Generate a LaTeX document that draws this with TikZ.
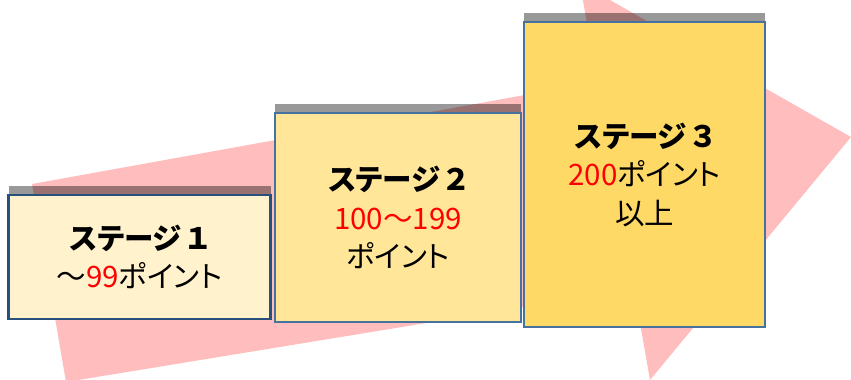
\documentclass[tikz,border=0pt]{standalone}
\usepackage{fontspec}
\setmainfont{Noto Sans CJK JP}[RawFeature=+palt]
\usetikzlibrary{shadows}
\definecolor{arrowpink}{RGB}{255,189,189}
\definecolor{fillA}{RGB}{255,242,204}
\definecolor{fillB}{RGB}{255,230,153}
\definecolor{fillC}{RGB}{255,217,102}
\definecolor{borderA}{RGB}{40,80,124}
\definecolor{borderB}{RGB}{70,114,160}
\definecolor{numred}{RGB}{255,0,0}
\newcommand{\stgap}{\hspace{5pt}}
\tikzset{
  stagebox/.style={rectangle, align=center, inner sep=0pt,
    font=\fontsize{29.5}{38.5}\selectfont,
    general shadow={fill=black, opacity=0.4, shadow yshift=9.5pt}},
  arrowfill/.style={fill=arrowpink}
}
\begin{document}
\begin{tikzpicture}[x=1pt,y=-1pt]
\useasboundingbox (0,0) rectangle (851,380);
\clip (0,0) rectangle (851,380);
\fill[arrowfill] (32,184) -- (597,82) -- (580,-17) -- (851,137) -- (650,380) -- (634,289) -- (66,382) -- cycle;
\node[stagebox, fill=fillA, draw=borderA, line width=2.5pt, minimum width=262pt, minimum height=124pt] (s1) at (139.5,257)
  {{\bfseries ステージ\stgap １}\\～{\color{numred}99}ポイント};
\node[stagebox, fill=fillB, draw=borderB, line width=2pt, minimum width=246pt, minimum height=209pt] (s2) at (398,217.5)
  {{\bfseries ステージ\stgap ２}\\{\color{numred}100～199}\\ポイント};
\node[stagebox, fill=fillC, draw=borderB, line width=2pt, minimum width=241pt, minimum height=305pt] (s3) at (644.5,174.5)
  {{\bfseries ステージ\stgap ３}\\{\color{numred}200}ポイント\\以上};
\end{tikzpicture}
\end{document}
